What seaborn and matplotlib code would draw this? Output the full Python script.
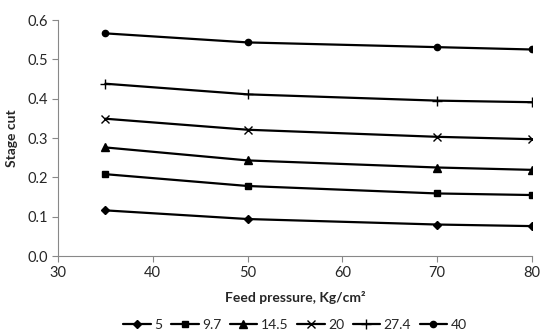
import matplotlib
matplotlib.use("Agg")
import matplotlib.pyplot as plt
import seaborn as sns
import pandas as pd

# Feed pressure (Kg/cm2) and stage cut for each series
pressure = [35, 50, 70, 80]
series_labels = ["5", "9.7", "14.5", "20", "27.4", "40"]
cut_5 = [0.116, 0.094, 0.080, 0.076]
cut_9_7 = [0.208, 0.178, 0.159, 0.155]
cut_14_5 = [0.276, 0.243, 0.225, 0.219]
cut_20 = [0.349, 0.321, 0.303, 0.297]
cut_27_4 = [0.438, 0.411, 0.395, 0.391]
cut_40 = [0.566, 0.543, 0.531, 0.525]

y_ticks = [0.0, 0.1, 0.2, 0.3, 0.4, 0.5, 0.6]
x_ticks = [30, 40, 50, 60, 70, 80]

all_cuts = [cut_5, cut_9_7, cut_14_5, cut_20, cut_27_4, cut_40]
df = pd.DataFrame({
    "pressure": pressure * len(series_labels),
    "cut": [v for s in all_cuts for v in s],
    "series": [lab for lab in series_labels for _ in pressure],
})

sns.set_style("white")
plt.rcParams["font.family"] = ["Lato", "DejaVu Sans"]

fig = plt.figure(figsize=(5.42, 3.33), dpi=100)
ax = fig.add_axes([58 / 542, 1 - 256 / 333, (532 - 58) / 542, (256 - 20) / 333])

markers = {"5": "D", "9.7": "s", "14.5": "^", "20": "x", "27.4": "+", "40": "o"}
sizes = {"5": 4.5, "9.7": 4.5, "14.5": 5.5, "20": 5.5, "27.4": 7, "40": 4.5}
for lab in series_labels:
    sub = df[df["series"] == lab]
    sns.lineplot(data=sub, x="pressure", y="cut", ax=ax, color="black",
                 marker=markers[lab], markersize=sizes[lab], linewidth=1.6,
                 markeredgewidth=1.0, markeredgecolor="black", label=lab)

ax.set_xlim(30, 80)
ax.set_ylim(0, 0.6)
ax.set_xticks(x_ticks)
ax.set_yticks(y_ticks)
ax.set_yticklabels([f"{t:.1f}" for t in y_ticks])
ax.tick_params(axis="both", direction="out", length=4, width=0.8, color="#888888",
               labelsize=10.5, pad=3, bottom=True, left=True)
for side in ["top", "right"]:
    ax.spines[side].set_visible(False)
for side in ["left", "bottom"]:
    ax.spines[side].set_color("#888888")
    ax.spines[side].set_linewidth(0.8)

ax.set_xlabel("Feed pressure, Kg/cm²", fontsize=10, fontweight="bold", labelpad=8)
ax.set_ylabel("Stage cut", fontsize=10, fontweight="bold", labelpad=7)

ax.legend(loc="upper center", bbox_to_anchor=(0.5, -0.215), ncol=6, frameon=False,
          fontsize=10, handlelength=2.0, handletextpad=0.25, columnspacing=0.6)

fig.savefig("out.png", dpi=100)
